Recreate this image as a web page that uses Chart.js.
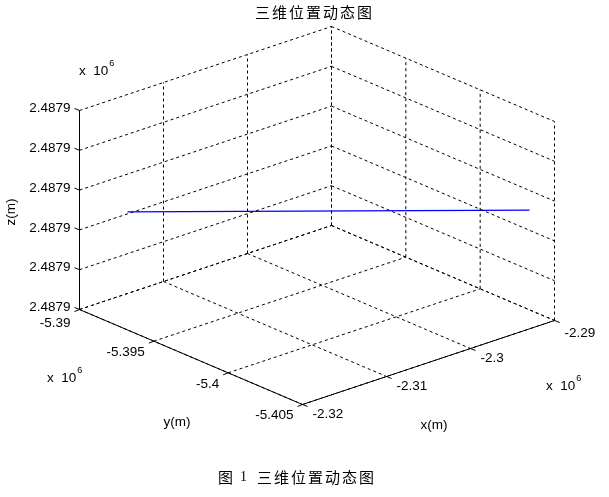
<!DOCTYPE html>
<html>
<head>
<meta charset="utf-8">
<script src="https://cdn.jsdelivr.net/npm/chart.js@4/dist/chart.umd.min.js"></script>
<style>
html,body{margin:0;padding:0;background:#fff;}
canvas{display:block;}
</style>
</head>
<body>
<canvas id="c" width="609" height="497"></canvas>
<script>
// ---- data (metres) ----
const xTicks = [-2320000, -2310000, -2300000, -2290000];
const yTicks = [-5390000, -5395000, -5400000, -5405000];
const zTicks = [2487900.0, 2487900.2, 2487900.4, 2487900.6, 2487900.8, 2487901.0];
const xTickLabels = ['-2.32', '-2.31', '-2.3', '-2.29'];
const yTickLabels = ['-5.39', '-5.395', '-5.4', '-5.405'];
const zTickLabels = ['2.4879', '2.4879', '2.4879', '2.4879', '2.4879', '2.4879'];
const trajX = [-2318500, -2291380];
const trajY = [-5392380, -5404100];
const trajZ = [2487900.545, 2487900.545];
const titleText = '三维位置动态图';
const captionText = '图 1';

// ---- projection of the 3-D box onto the page plane ----
const xMin = xTicks[0], xMax = xTicks[xTicks.length - 1];
const yHi = yTicks[0], yLo = yTicks[yTicks.length - 1];
const zMin = zTicks[0], zMax = zTicks[zTicks.length - 1];
const O = [79.5, 309.5], EX = [252, -84], EY = [223, 95], EZ = [0, -199];
function proj(x, y, z) {
  const u = (x - xMin) / (xMax - xMin);
  const v = (yHi - y) / (yHi - yLo);
  const w = (z - zMin) / (zMax - zMin);
  return { x: O[0] + u * EX[0] + v * EY[0] + w * EZ[0],
           y: O[1] + u * EX[1] + v * EY[1] + w * EZ[1] };
}

const datasets = [];
function seg(a, b, opts) {
  datasets.push(Object.assign({
    data: [a, b], showLine: true, pointRadius: 0, borderWidth: 1,
    borderColor: '#000', fill: false, tension: 0
  }, opts || {}));
}
const dash = { borderDash: [3, 3] };
// wall y = yHi (back-left)
xTicks.forEach(x => seg(proj(x, yHi, zMin), proj(x, yHi, zMax), dash));
zTicks.forEach(z => seg(proj(xMin, yHi, z), proj(xMax, yHi, z), dash));
// wall x = xMax (back-right)
yTicks.forEach(y => seg(proj(xMax, y, zMin), proj(xMax, y, zMax), dash));
zTicks.forEach(z => seg(proj(xMax, yHi, z), proj(xMax, yLo, z), dash));
// floor
xTicks.forEach(x => seg(proj(x, yHi, zMin), proj(x, yLo, zMin), dash));
yTicks.forEach(y => seg(proj(xMin, y, zMin), proj(xMax, y, zMin), dash));
// trajectory
datasets.push({
  data: trajX.map((x, i) => proj(x, trajY[i], trajZ[i])),
  showLine: true, pointRadius: 0, borderWidth: 1.2, borderColor: '#0000ff', tension: 0
});
// solid axes
seg(proj(xMin, yHi, zMin), proj(xMin, yHi, zMax));
seg(proj(xMin, yHi, zMin), proj(xMin, yLo, zMin));
seg(proj(xMin, yLo, zMin), proj(xMax, yLo, zMin));
// tick marks
zTicks.forEach(z => { const p = proj(xMin, yHi, z); seg(p, { x: p.x - 5, y: p.y - 2 }); });
yTicks.forEach(y => { const p = proj(xMin, y, zMin); seg(p, { x: p.x - 5, y: p.y + 2 }); });
xTicks.forEach(x => { const p = proj(x, yLo, zMin); seg(p, { x: p.x + 5, y: p.y + 2 }); });

const NUM = '13.5px "Liberation Sans", Arial, sans-serif';
const CJK = '15px "Noto Sans CJK SC", sans-serif';

const textPlugin = {
  id: 'texts',
  afterDraw(chart) {
    const ctx = chart.ctx, sx = chart.scales.x, sy = chart.scales.y;
    const P = p => ({ x: sx.getPixelForValue(p.x), y: sy.getPixelForValue(p.y) });
    ctx.save();
    ctx.fillStyle = '#000';
    ctx.textBaseline = 'middle';
    ctx.font = NUM;
    // z tick labels
    ctx.textAlign = 'right';
    zTicks.forEach((z, i) => { const p = P(proj(xMin, yHi, z)); ctx.fillText(zTickLabels[i], p.x - 9, p.y - 2); });
    // y tick labels
    yTicks.forEach((y, i) => { const p = P(proj(xMin, y, zMin)); ctx.fillText(yTickLabels[i], p.x - 9, p.y + (i === 0 ? 14 : 11)); });
    // x tick labels
    ctx.textAlign = 'left';
    xTicks.forEach((x, i) => { const p = P(proj(x, yLo, zMin)); ctx.fillText(xTickLabels[i], p.x + 10, p.y + (i === 3 ? 13 : 10)); });
    // exponent labels
    function expo(x, y) {
      ctx.font = NUM; ctx.textAlign = 'left';
      ctx.fillText('x  10', x, y);
      const w = ctx.measureText('x  10').width;
      ctx.font = '9px "Liberation Sans", Arial, sans-serif';
      ctx.fillText('6', x + w + 1, y - 7);
    }
    expo(79, 71);
    expo(47, 378);
    expo(546, 386);
    // axis labels
    ctx.font = NUM; ctx.textAlign = 'center';
    ctx.fillText('y(m)', 177, 422);
    ctx.fillText('x(m)', 434, 425);
    ctx.save();
    ctx.translate(11, 212); ctx.rotate(-Math.PI / 2);
    ctx.fillText('z(m)', 0, 0);
    ctx.restore();
    // title & caption
    ctx.font = CJK; ctx.textAlign = 'left';
    ctx.letterSpacing = '2px';
    ctx.fillText(titleText, 255, 12);
    ctx.fillText(titleText, 257, 477);
    ctx.letterSpacing = '0px';
    ctx.fillText(captionText.split(' ')[0], 218, 477);
    ctx.font = '14px "Liberation Serif", serif';
    ctx.fillText(captionText.split(' ')[1], 240, 477);
    ctx.restore();
  }
};

new Chart(document.getElementById('c'), {
  type: 'scatter',
  data: { datasets },
  options: {
    responsive: false, animation: false, devicePixelRatio: 1,
    layout: { padding: 0 },
    plugins: { legend: { display: false }, tooltip: { enabled: false }, title: { display: false } },
    scales: {
      x: { type: 'linear', min: 0, max: 609, display: false },
      y: { type: 'linear', min: 0, max: 497, reverse: true, display: false }
    }
  },
  plugins: [textPlugin]
});
</script>
</body>
</html>
